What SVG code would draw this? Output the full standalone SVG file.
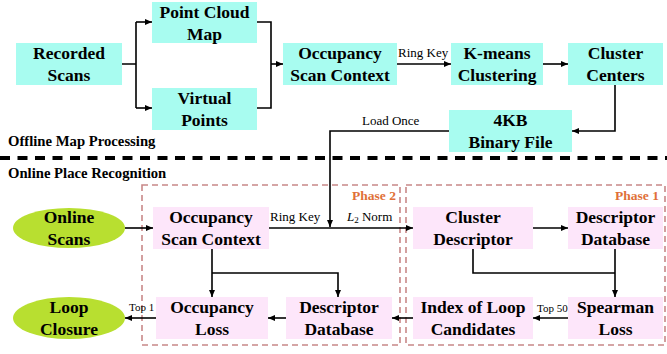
<svg xmlns="http://www.w3.org/2000/svg" width="667" height="354" viewBox="0 0 667 354">
<defs>
<marker id="ah" markerUnits="userSpaceOnUse" markerWidth="8" markerHeight="8" refX="7" refY="4" orient="auto">
<path d="M0,1 L7,4 L0,7 Z" fill="#000"/>
</marker>
<style>
text{font-family:'Liberation Serif',serif;fill:#000}
.cy{fill:#a8fcf0}
.pk{fill:#fde6fa}
.gr{fill:#b8df30}
.t{font-weight:bold;font-size:17.5px;text-anchor:middle}
.s{font-size:13px}
.xs{font-size:11px}
.sec{font-weight:bold;font-size:14.7px}
.ph{font-weight:bold;font-size:13.5px;fill:#e07038}
.c{fill:none;stroke:#000;stroke-width:1.6}
.a{marker-end:url(#ah)}
.pb{fill:none;stroke:#c88888;stroke-width:1.6;stroke-dasharray:6,4}
</style>
</defs>

<line x1="0" y1="158" x2="667" y2="158" stroke="#000" stroke-width="4" stroke-dasharray="10,7.5"/>
<text class="sec" x="8" y="146">Offline Map Processing</text>
<text class="sec" x="8" y="178">Online Place Recognition</text>

<rect class="pb" x="142" y="185" width="258" height="160"/>
<rect class="pb" x="406" y="185" width="259" height="160"/>
<text class="ph" x="352" y="200">Phase 2</text>
<text class="ph" x="615" y="200">Phase 1</text>

<g id="connectors">
<path class="c" d="M122,64 H136 M136,22 V108"/>
<path class="c a" d="M136,22 H152"/>
<path class="c a" d="M136,108 H152"/>
<path class="c" d="M257,22 H271 V108 H257"/>
<path class="c a" d="M271,64 H283"/>
<path class="c a" d="M397,64 H451"/>
<path class="c a" d="M543,64 H568"/>
<path class="c a" d="M615,85 V131 H572"/>
<path class="c a" d="M449,131 H330 V227"/>
<path class="c a" d="M125,228 H153"/>
<path class="c a" d="M269,228 H413"/>
<path class="c a" d="M533,228 H568"/>
<path class="c a" d="M615,249 V297"/>
<path class="c" d="M473,249 V273 H615"/>
<path class="c a" d="M212,249 V297"/>
<path class="c a" d="M212,273 H338 V297"/>
<path class="c a" d="M568,318 H533"/>
<path class="c a" d="M413,318 H392"/>
<path class="c a" d="M286,318 H268"/>
<path class="c a" d="M156,318 H125"/>
<text class="s" x="398" y="57">Ring Key</text>
<text class="s" x="362" y="125">Load Once</text>
<text class="s" x="270" y="221">Ring Key</text>
<text class="s" x="347" y="221"><tspan font-style="italic">L</tspan><tspan font-size="9" dy="2">2</tspan><tspan dy="-2"> Norm</tspan></text>
<text class="xs" x="537" y="312">Top 50</text>
<text class="xs" x="129" y="311">Top 1</text>
</g>

<g id="recorded-scans"><rect class="cy" x="16" y="43" width="106" height="42"/><text class="t" x="69" y="59">Recorded<tspan x="69" dy="22">Scans</tspan></text></g>
<g id="point-cloud-map"><rect class="cy" x="152" y="2" width="105" height="41"/><text class="t" x="204.5" y="17.5">Point Cloud<tspan x="204.5" dy="22">Map</tspan></text></g>
<g id="virtual-points"><rect class="cy" x="152" y="88" width="105" height="42"/><text class="t" x="204.5" y="103.5">Virtual<tspan x="204.5" dy="22">Points</tspan></text></g>
<g id="osc-offline"><rect class="cy" x="283" y="43" width="114" height="42"/><text class="t" x="340" y="59">Occupancy<tspan x="340" dy="22">Scan Context</tspan></text></g>
<g id="kmeans"><rect class="cy" x="451" y="43" width="92" height="42"/><text class="t" x="497" y="59">K-means<tspan x="497" dy="22">Clustering</tspan></text></g>
<g id="cluster-centers"><rect class="cy" x="568" y="43" width="95" height="42"/><text class="t" x="615.5" y="59">Cluster<tspan x="615.5" dy="22">Centers</tspan></text></g>
<g id="binary-file"><rect class="cy" x="449" y="110" width="123" height="42"/><text class="t" x="510.5" y="126">4KB<tspan x="510.5" dy="22">Binary File</tspan></text></g>

<g id="online-scans"><ellipse class="gr" cx="69" cy="228" rx="56" ry="20"/><text class="t" x="69" y="223">Online<tspan x="69" dy="22">Scans</tspan></text></g>
<g id="osc-online"><rect class="pk" x="153" y="207" width="116" height="42"/><text class="t" x="211" y="223">Occupancy<tspan x="211" dy="22">Scan Context</tspan></text></g>
<g id="cluster-descriptor"><rect class="pk" x="413" y="207" width="120" height="42"/><text class="t" x="473" y="223">Cluster<tspan x="473" dy="22">Descriptor</tspan></text></g>
<g id="descriptor-database-1"><rect class="pk" x="568" y="207" width="95" height="42"/><text class="t" x="615.5" y="223">Descriptor<tspan x="615.5" dy="22">Database</tspan></text></g>
<g id="spearman-loss"><rect class="pk" x="568" y="297" width="95" height="42"/><text class="t" x="615.5" y="313">Spearman<tspan x="615.5" dy="22">Loss</tspan></text></g>
<g id="index-candidates"><rect class="pk" x="413" y="297" width="120" height="42"/><text class="t" x="473" y="313">Index of Loop<tspan x="473" dy="22">Candidates</tspan></text></g>
<g id="descriptor-database-2"><rect class="pk" x="286" y="297" width="106" height="42"/><text class="t" x="339" y="313">Descriptor<tspan x="339" dy="22">Database</tspan></text></g>
<g id="occupancy-loss"><rect class="pk" x="156" y="297" width="112" height="42"/><text class="t" x="212" y="313">Occupancy<tspan x="212" dy="22">Loss</tspan></text></g>
<g id="loop-closure"><ellipse class="gr" cx="69" cy="318" rx="56" ry="21"/><text class="t" x="69" y="313">Loop<tspan x="69" dy="22">Closure</tspan></text></g>
</svg>
